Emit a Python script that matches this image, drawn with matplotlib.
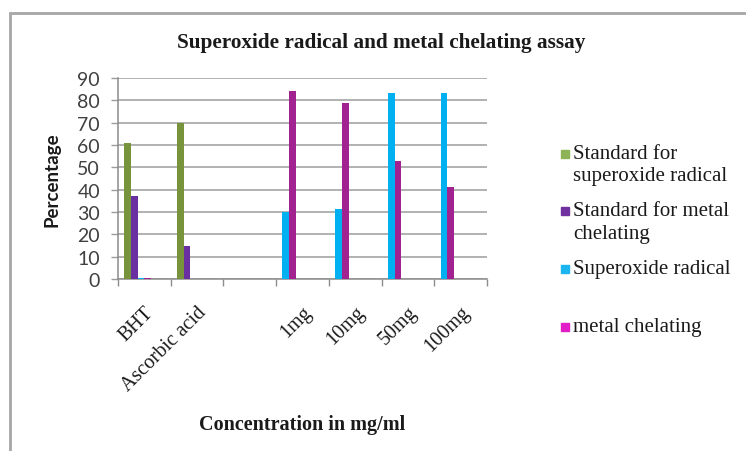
# superoxide radical / metal chelating assay - grouped bars
import numpy as np
import matplotlib.pyplot as plt
from matplotlib.patches import Rectangle

categorias = ['BHT', 'Ascorbic acid', '', '1mg', '10mg', '50mg', '100mg']
series = ['Standard for\nsuperoxide radical', 'Standard for metal\nchelating',
          'Superoxide radical', 'metal chelating']

std_superoxide = [61, 70, None, None, None, None, None]
std_metal = [37, 15, None, None, None, None, None]
superoxide = [0.6, 0, None, 30, 31.5, 83.5, 83.5]
metal = [0.6, 0, None, 84, 79, 53, 41]

valores = [std_superoxide, std_metal, superoxide, metal]
cores_barra = ['#77933C', '#6A2FA0', '#00B0F0', '#A2228F']
cores_leg = ['#8DB356', '#7030A0', '#1AB4EE', '#E01DC6']
yticks = list(range(0, 100, 10))

serif = 'Liberation Serif'
sans = 'Lato'

fig = plt.figure(figsize=(7.46, 4.52), dpi=100)
W, H = 746, 452
ax = fig.add_axes([118 / W, 1 - 280 / H, (487 - 118) / W, (280 - 79) / H])

# 6 slots per category, bars fill slots in order
n_slots = 6
w = 1 / (n_slots + 1.9)
for i in range(len(categorias)):
    slot = 0
    for s, vals in enumerate(valores):
        v = vals[i]
        if v is None:
            continue
        x0 = i + 0.95 * w + slot * w
        ax.bar(x0, v, width=w, align='edge', color=cores_barra[s],
               linewidth=0, zorder=3)
        slot += 1

ax.set_xlim(0, len(categorias))
ax.set_ylim(0, 90)
ax.set_yticks(yticks)
ax.set_yticklabels([str(t) for t in yticks], fontfamily=sans, fontsize=14,
                   color='#404040')
ax.yaxis.grid(True, color='#9C9C9C', linewidth=1.1, zorder=0)
ax.set_axisbelow(True)

ax.set_xticks(np.arange(len(categorias)) + 0.5)
ax.set_xticklabels(categorias, rotation=45, ha='right', va='top',
                   rotation_mode='anchor', fontfamily=serif, fontsize=14.5,
                   color='#1a1a1a')
ax.set_xticks(np.arange(len(categorias) + 1), minor=True)
ax.tick_params(axis='x', which='major', length=0, pad=17)
ax.tick_params(axis='x', which='minor', length=5, color='#8C8C8C', width=1)
ax.tick_params(axis='y', length=5, color='#9C9C9C', width=1, pad=8)

for lado in ['top', 'right']:
    ax.spines[lado].set_visible(False)
for lado in ['left', 'bottom']:
    ax.spines[lado].set_color('#8C8C8C')
    ax.spines[lado].set_linewidth(1.1)

ax.set_ylabel('Percentage', fontfamily=sans, fontsize=13.5, fontweight='bold',
              color='#1a1a1a', labelpad=12)
fig.text(302 / W, 1 - 425 / H, 'Concentration in mg/ml', ha='center',
         va='center', fontfamily=serif, fontsize=14.5, fontweight='bold',
         color='#1a1a1a')
fig.text(381 / W, 1 - 43 / H, 'Superoxide radical and metal chelating assay',
         ha='center', va='center', fontfamily=serif, fontsize=15.3,
         fontweight='bold', color='#1a1a1a')

# legend drawn by hand, marker next to first line
leg_y = [155, 212, 270, 328]
for s, nome in enumerate(series):
    y = 1 - leg_y[s] / H
    fig.patches.append(Rectangle((561 / W, y - 4 / H), 8 / W, 8 / H,
                                 transform=fig.transFigure,
                                 color=cores_leg[s]))
    fig.text(573 / W, y + 10 / H, nome, ha='left', va='top', fontfamily=serif,
             fontsize=15, color='#1a1a1a', linespacing=1.25)

# outer chart border
fig.patches.append(Rectangle((9.5 / W, -0.1), 1.2, 1 - 13.5 / H + 0.1,
                             transform=fig.transFigure, fill=False,
                             edgecolor='#A6A6A6', linewidth=2))

fig.savefig('out.png', dpi=100)
